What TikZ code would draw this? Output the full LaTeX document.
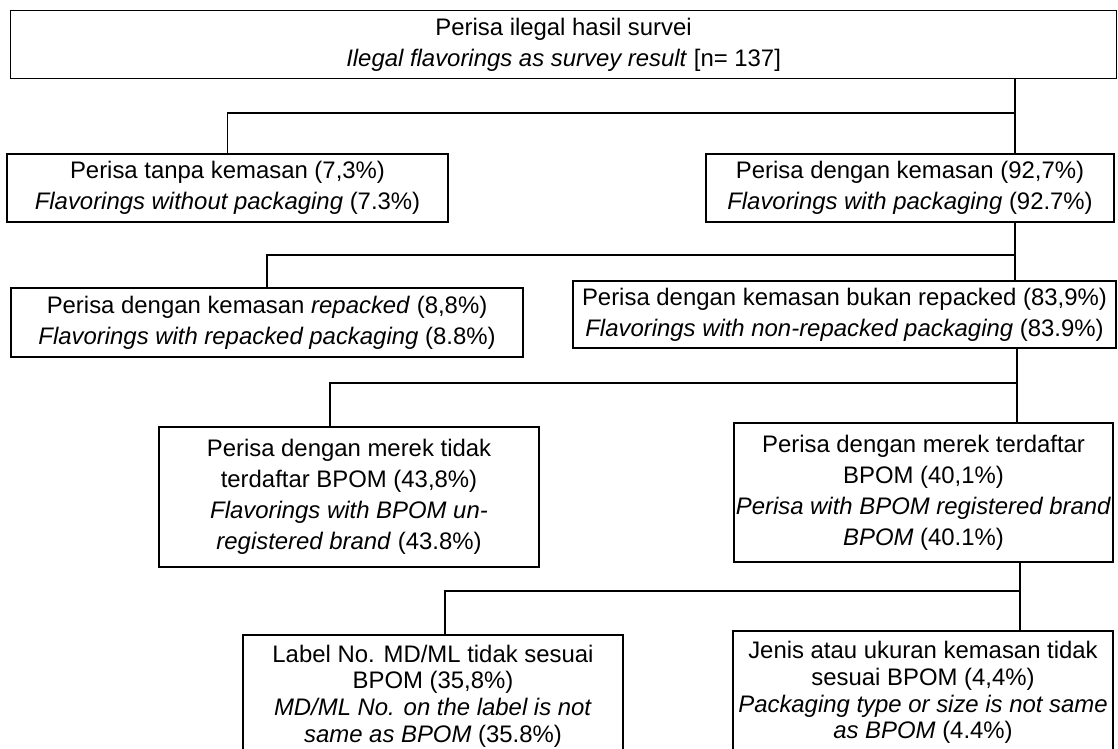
\documentclass[tikz,border=0pt]{standalone}
\usepackage{fontspec}
\setmainfont{Liberation Sans}
\usepackage{tikz}

\newlength\pxu
\setlength\pxu{0.025cm}
\tikzset{
  box/.style={draw, black, line width=1.1pt, rectangle, align=center, inner sep=0pt,
    font=\fontsize{17}{22}\selectfont},
  boxtight/.style={box, font=\fontsize{17}{19}\selectfont},
  link/.style={black, line width=1.1pt}
}

\begin{document}
\begin{tikzpicture}[x=0.025cm, y=-0.025cm]
\useasboundingbox (0,0) rectangle (1118,749);
\node [box, minimum width=1106\pxu, minimum height=68\pxu] (top) at (563.6,44.7)
  {Perisa ilegal hasil survei\\\textit{Ilegal flavorings as survey result} [n= 137]};
\node [box, minimum width=441\pxu, minimum height=68\pxu] (nopack) at (227.5,188)
  {Perisa tanpa kemasan (7,3\%)\\\textit{Flavorings without packaging} (7.3\%)};
\node [box, minimum width=408\pxu, minimum height=68\pxu] (pack) at (910,188)
  {Perisa dengan kemasan (92,7\%)\\\textit{Flavorings with packaging} (92.7\%)};
\node [box, minimum width=512\pxu, minimum height=69\pxu] (rep) at (267,322.5)
  {Perisa dengan kemasan \textit{repacked} (8,8\%)\\\textit{Flavorings with repacked packaging} (8.8\%)};
\node [box, minimum width=543\pxu, minimum height=67\pxu] (nonrep) at (844.5,314.5)
  {Perisa dengan kemasan bukan repacked (83,9\%)\\\textit{Flavorings with non-repacked packaging} (83.9\%)};
\node [box, minimum width=380\pxu, minimum height=140\pxu] (unreg) at (349,497)
  {Perisa dengan merek tidak\\terdaftar BPOM (43,8\%)\\\textit{Flavorings with BPOM un-}\\\textit{registered brand} (43.8\%)};
\node [box, minimum width=379\pxu, minimum height=139\pxu] (reg) at (923.5,492.5)
  {Perisa dengan merek terdaftar\\BPOM (40,1\%)\\\textit{Perisa with BPOM registered brand}\\\textit{BPOM} (40.1\%)};
\node [boxtight, minimum width=380\pxu, minimum height=122\pxu] (label) at (433,696)
  {Label No. MD/ML tidak sesuai\\BPOM (35,8\%)\\\textit{MD/ML No. on the label is not}\\\textit{same as BPOM} (35.8\%)};
\node [boxtight, minimum width=380\pxu, minimum height=123\pxu] (jenis) at (923,692.5)
  {Jenis atau ukuran kemasan tidak\\sesuai BPOM (4,4\%)\\\textit{Packaging type or size is not same}\\\textit{as BPOM} (4.4\%)};

\coordinate (j1) at (1015,113);
\coordinate (j2) at (1015,255);
\coordinate (j3) at (1017,383);
\coordinate (d3) at (330,383);
\coordinate (j4) at (1020,591);
\coordinate (d4) at (445,591);
\draw [link] (j1 |- top.south) -- (j1 |- pack.north);
\draw [link] (j1) -| (nopack.north);
\draw [link] (j2 |- pack.south) -- (j2 |- nonrep.north);
\draw [link] (j2) -| (rep.north);
\draw [link] (j3 |- nonrep.south) -- (j3 |- reg.north);
\draw [link] (j3) -- (d3) -- (d3 |- unreg.north);
\draw [link] (j4 |- reg.south) -- (j4 |- jenis.north);
\draw [link] (j4) -- (d4) -- (d4 |- label.north);
\end{tikzpicture}
\end{document}
